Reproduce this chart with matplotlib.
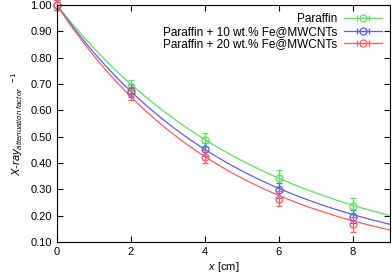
import numpy as np
import matplotlib.pyplot as plt

plt.rcParams['font.family'] = ['Liberation Sans', 'DejaVu Sans']
plt.rcParams['mathtext.fontset'] = 'custom'
plt.rcParams['mathtext.it'] = 'Liberation Sans:italic'
plt.rcParams['mathtext.rm'] = 'Liberation Sans'

x = np.array([0, 2, 4, 6, 8])
labels = ['Paraffin', 'Paraffin + 10 wt.% Fe@MWCNTs', 'Paraffin + 20 wt.% Fe@MWCNTs']
colors = ['#55e855', '#5a5aff', '#ff5a5a']
values = [
    [1.00, 0.690, 0.487, 0.344, 0.238],
    [1.00, 0.675, 0.452, 0.296, 0.195],
    [1.00, 0.665, 0.424, 0.264, 0.167],
]
errors = [
    [0.02, 0.025, 0.027, 0.030, 0.030],
    [0.02, 0.025, 0.025, 0.028, 0.025],
    [0.02, 0.025, 0.025, 0.028, 0.028],
]
# fitted attenuation coefficients (1/cm) for exp(-mu*x)
mu = [0.179, 0.199, 0.2145]

fig = plt.figure(figsize=(3.92, 2.79), dpi=100)
ax = fig.add_axes([0.145, 0.133, 0.85, 0.849])

xf = np.linspace(0, 9, 200)
handles = []
for lab, c, v, e, m in zip(labels, colors, values, errors, mu):
    ax.plot(xf, np.exp(-m * xf), color=c, lw=0.9)
    ax.errorbar(x, v, yerr=e, fmt='o', mfc='none', mec=c, ecolor=c, ms=5,
                mew=0.9, elinewidth=0.9, capsize=2.5, capthick=0.9,
                clip_on=False)
    # legend proxy: horizontal bar with caps, like gnuplot's key
    h = ax.errorbar([np.nan], [np.nan], xerr=[1], fmt='o-', color=c, mfc='none',
                    mec=c, ms=5, mew=0.9, lw=0.9, elinewidth=0.9, capsize=2.5,
                    capthick=0.9, label=lab)
    handles.append(h)
ax.legend(handles, labels, loc='upper right', frameon=False, markerfirst=False,
          fontsize=8.5, handlelength=3.2, labelspacing=0.05,
          borderaxespad=0.3, handletextpad=0.6)

ax.set_xlim(0, 9)
ax.set_ylim(0.10, 1.00)
ax.set_xticks([0, 2, 4, 6, 8])
ax.set_yticks(np.arange(0.1, 1.001, 0.1))
ax.yaxis.set_major_formatter(plt.FormatStrFormatter('%.2f'))
ax.tick_params(direction='in', top=True, right=True, labelsize=8, length=4, width=0.8)
for s in ax.spines.values():
    s.set_linewidth(0.8)
ax.set_xlabel(r'$x$ [cm]', fontsize=8, labelpad=2)
ax.set_ylabel(r'$X$-$ray_{attenuation\ factor}$$^{\ \ -1}$', fontsize=8, labelpad=4)

fig.savefig('out.png', dpi=100)
